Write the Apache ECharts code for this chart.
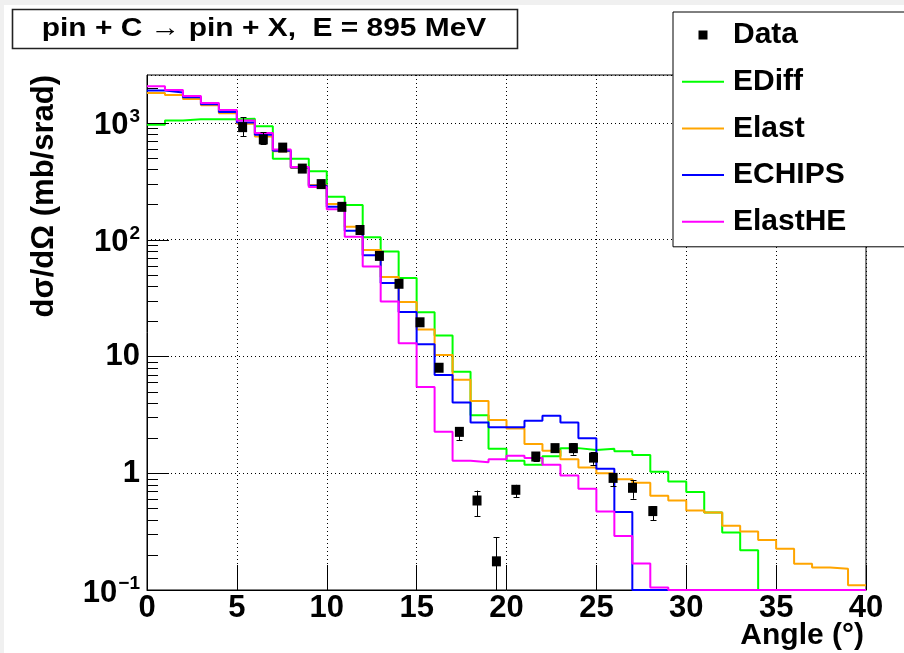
<!DOCTYPE html>
<html><head><meta charset="utf-8">
<script src="https://cdn.jsdelivr.net/npm/echarts@6/dist/echarts.min.js"></script>
<style>html,body{margin:0;padding:0;background:#fff}#c{width:904px;height:653px}</style>
</head><body><div id="c"></div>
<script>
// ---- data ----
const binEdges = [0,1,2,3,4,5,6,7,8,9,10,11,12,13,14,15,16,17,18,19,20,21,22,23,24,25,26,27,28,29,30,31,32,33,34,35,36,37,38,39,40];
const F = 0.1; // empty bins sit on the lower frame (axis minimum)
const ediff   = [963,1048,1076,1076,1076,1083,937,494,494,385,233,198,105,79,46.9,23.9,15.1,7.41,3.14,1.62,1.28,1.18,1.40,1.64,1.58,1.62,1.54,1.43,1.03,0.85,0.69,0.46,0.31,0.219,F,F,F,F,F,F];
const elast   = [1804,1734,1604,1416,1210,982,766,571,411,294,202,129,81.7,47.8,29.3,17.0,10.3,6.33,4.16,2.86,2.42,1.78,1.56,1.32,1.12,1.0,0.89,0.83,0.64,0.585,0.48,0.46,0.355,0.317,0.268,0.226,0.168,0.156,0.152,0.110];
const echips  = [1889,1816,1657,1444,1242,1007,791,578,414,289,191,119,73.6,42.5,24.0,12.7,6.93,4.03,2.72,2.47,2.47,2.81,3.10,2.72,1.99,1.09,0.465,F,F,F,F,F,F,F,F,F,F,F,F,F];
const elasthe = [2056,1914,1701,1483,1292,1048,817,593,419,283,182,106,58.9,29.6,13.0,5.48,2.26,1.28,1.24,1.32,1.41,1.35,1.18,0.954,0.735,0.471,0.290,0.169,0.105,F,F,F,F,F,F,F,F,F,F,F];
const dataX  = [5.32,6.47,7.55,8.64,9.69,10.84,11.85,12.93,14.02,15.19,16.25,17.38,18.36,19.44,20.52,21.63,22.70,23.72,24.84,25.93,27.01,28.14];
const dataY  = [919,722,614,406,299,191,121,72.6,41.9,19.6,8.0,2.26,0.584,0.176,0.721,1.39,1.64,1.64,1.36,0.912,0.750,0.474];
const errLo  = [766,663,580,385,285,182,114,68,39,18.5,7.5,1.92,0.427,0.06,0.624,1.28,1.52,1.44,1.18,0.774,0.604,0.395];
const errHi  = [1119,834,650,430,315,200,128,77,45,20.8,8.5,2.47,0.711,0.283,0.795,1.50,1.76,1.80,1.52,0.986,0.877,0.520];
const xTicks = [0,5,10,15,20,25,30,35,40];
const yMajorTicks = [0.1,1,10,100,1000];
const yMinorTicks = [0.2,0.3,0.4,0.5,0.6,0.7,0.8,0.9,2,3,4,5,6,7,8,9,20,30,40,50,60,70,80,90,200,300,400,500,600,700,800,900,2000];
const seriesNames = ['Data','EDiff','Elast','ECHIPS','ElastHE'];
const titleText = 'pin + C \u2192 pin + X,  E = 895 MeV';
const yTitle = 'd\u03c3/d\u03a9 (mb/srad)';
const xTitle = 'Angle (\u00b0)';

const FONT = '"Liberation Sans", Arial, Helvetica, sans-serif';
const LINE_ICON = 'path://M0,0L42,0L42,2L0,2Z';
const SQUARE_ICON = 'path://M0,0L1,0L1,1L0,1Z';
function stepData(vals){ return binEdges.map((e,i)=>[e, vals[Math.min(i, vals.length-1)]]); }
function histSeries(name, vals, color){
  return {name, type:'line', step:'end', data: stepData(vals), symbol:'none', showSymbol:false,
    lineStyle:{color, width:2}, itemStyle:{color}, z:3, silent:true};
}
function tickSeries(vals, len){
  return {type:'custom', silent:true, z:4, data: vals.map(v=>[0,v]), encode:{x:0,y:1},
    renderItem(params, api){
      const p = api.coord([0, api.value(1)]);
      const y = Math.round(p[1]) + 0.5;
      return {type:'line', shape:{x1:p[0], y1:y, x2:p[0]+len, y2:y}, style:{stroke:'#000', lineWidth:1}};
    }};
}

const chart = echarts.init(document.getElementById('c'), null, {renderer:'canvas'});
chart.setOption({
  animation:false,
  backgroundColor:'#f0f0f0',
  graphic:[
    {type:'rect', z:-100, shape:{x:4, y:5, width:900, height:648}, style:{fill:'#fff'}},
    {type:'rect', z:10, shape:{x:12.5, y:9.5, width:505, height:39}, style:{fill:'#fff', stroke:'#222', lineWidth:1.6}},
    {type:'text', z:11, x:264, y:29, scaleX:1.15,
      style:{text:titleText, fontSize:26, fontWeight:'bold', fontFamily:FONT, fill:'#000', align:'center', verticalAlign:'middle', textAlign:'center', textVerticalAlign:'middle'}},
    {type:'text', z:11, x:44, y:75, rotation:Math.PI/2,
      style:{text:yTitle, fontSize:31, fontWeight:'bold', fontFamily:FONT, fill:'#000', align:'right', verticalAlign:'middle', textAlign:'right', textVerticalAlign:'middle'}},
    {type:'text', z:11, x:864, y:636,
      style:{text:xTitle, fontSize:30, fontWeight:'bold', fontFamily:FONT, fill:'#000', align:'right', verticalAlign:'middle', textAlign:'right', textVerticalAlign:'middle'}}
  ],
  grid:{left:147, right:38, top:75, bottom:63, containLabel:false, outerBoundsMode:'none', show:true, borderColor:'#000', borderWidth:1, backgroundColor:'transparent'},
  legend:{
    orient:'vertical', left:673, top:12, padding:[8,60,10,9], backgroundColor:'#fff', borderColor:'#000', borderWidth:1,
    itemWidth:42, itemHeight:9, itemGap:16.7, selectedMode:false, z:20, symbolKeepAspect:true,
    textStyle:{fontSize:30, fontWeight:'bold', fontFamily:FONT, color:'#000', lineHeight:30, padding:[0,0,0,4]},
    data: [
      {name:'Data', icon:SQUARE_ICON, itemStyle:{color:'#000', borderWidth:0, opacity:1}},
      {name:'EDiff', icon:LINE_ICON, itemStyle:{color:'#00ff00', borderWidth:0}, lineStyle:{width:0}},
      {name:'Elast', icon:LINE_ICON, itemStyle:{color:'#ffa500', borderWidth:0}, lineStyle:{width:0}},
      {name:'ECHIPS', icon:LINE_ICON, itemStyle:{color:'#0000ff', borderWidth:0}, lineStyle:{width:0}},
      {name:'ElastHE', icon:LINE_ICON, itemStyle:{color:'#ff00ff', borderWidth:0}, lineStyle:{width:0}}
    ]
  },
  xAxis:{type:'value', min:0, max:40, interval:5,
    axisLine:{show:true, lineStyle:{color:'#000', width:1}},
    axisTick:{show:true, inside:true, length:25, lineStyle:{color:'#000', width:1}},
    splitLine:{show:true, lineStyle:{color:'#000', width:1, type:[1,3]}},
    axisLabel:{show:true, margin:3, fontSize:31, fontWeight:'bold', fontFamily:FONT, color:'#000', lineHeight:31,
      formatter:v=> xTicks.indexOf(v) >= 0 ? String(v) : ''}
  },
  yAxis:{type:'log', logBase:10, min:0.1, max:2570,
    axisLine:{show:true, lineStyle:{color:'#000', width:1}},
    axisTick:{show:false},
    minorTick:{show:false},
    splitLine:{show:true, lineStyle:{color:'#000', width:1, type:[1,3]}},
    axisLabel:{show:true, margin:7, color:'#000',
      formatter:function(v){
        const l = Math.log10(v), e = Math.round(l);
        if (Math.abs(l-e) > 1e-6) return '';
        if (e === 0) return '{b|1}';
        if (e === 1) return '{b|10}';
        return '{b2|10}{s|' + (e < 0 ? '\u2212' : '') + Math.abs(e) + '}';
      },
      rich:{
        b:{fontSize:31, fontWeight:'bold', fontFamily:FONT, color:'#000', lineHeight:31},
        b2:{fontSize:31, fontWeight:'bold', fontFamily:FONT, color:'#000', lineHeight:31, padding:[6,0,0,0]},
        s:{fontSize:19, fontWeight:'bold', fontFamily:FONT, color:'#000', lineHeight:19, verticalAlign:'top', padding:[0,0,0,1]}
      }
    }
  },
  series:[
    {name:'Data', type:'scatter', data:[], symbol:'rect', itemStyle:{color:'#000', opacity:1}},
    histSeries('EDiff', ediff, '#00ff00'),
    histSeries('Elast', elast, '#ffa500'),
    histSeries('ECHIPS', echips, '#0000ff'),
    histSeries('ElastHE', elasthe, '#ff00ff'),
    tickSeries(yMajorTicks, 22),
    tickSeries(yMinorTicks, 11),
    {type:'custom', silent:true, z:6, data: dataX.map((x,i)=>[x, errLo[i], errHi[i]]), encode:{x:0, y:[1,2]},
      renderItem(params, api){
        const x = api.value(0);
        const lo = api.coord([x, api.value(1)]);
        const hi = api.coord([x, api.value(2)]);
        const cs = params.coordSys;
        const bottom = cs.y + cs.height;
        const xc = Math.round(lo[0]) + 0.5;
        const yb = Math.min(lo[1], bottom);
        const kids = [
          {type:'line', shape:{x1:xc, y1:hi[1], x2:xc, y2:yb}, style:{stroke:'#000', lineWidth:1}},
          {type:'line', shape:{x1:xc-3, y1:Math.round(hi[1])+0.5, x2:xc+3, y2:Math.round(hi[1])+0.5}, style:{stroke:'#000', lineWidth:1}}
        ];
        if (lo[1] <= bottom) kids.push({type:'line', shape:{x1:xc-3, y1:Math.round(lo[1])+0.5, x2:xc+3, y2:Math.round(lo[1])+0.5}, style:{stroke:'#000', lineWidth:1}});
        return {type:'group', children:kids};
      }},
    {name:'Data', type:'scatter', z:7, silent:true, data: dataX.map((x,i)=>[x, dataY[i]]), symbol:'rect', symbolSize:[9,10], itemStyle:{color:'#000', opacity:1}}
  ]
});
</script></body></html>
